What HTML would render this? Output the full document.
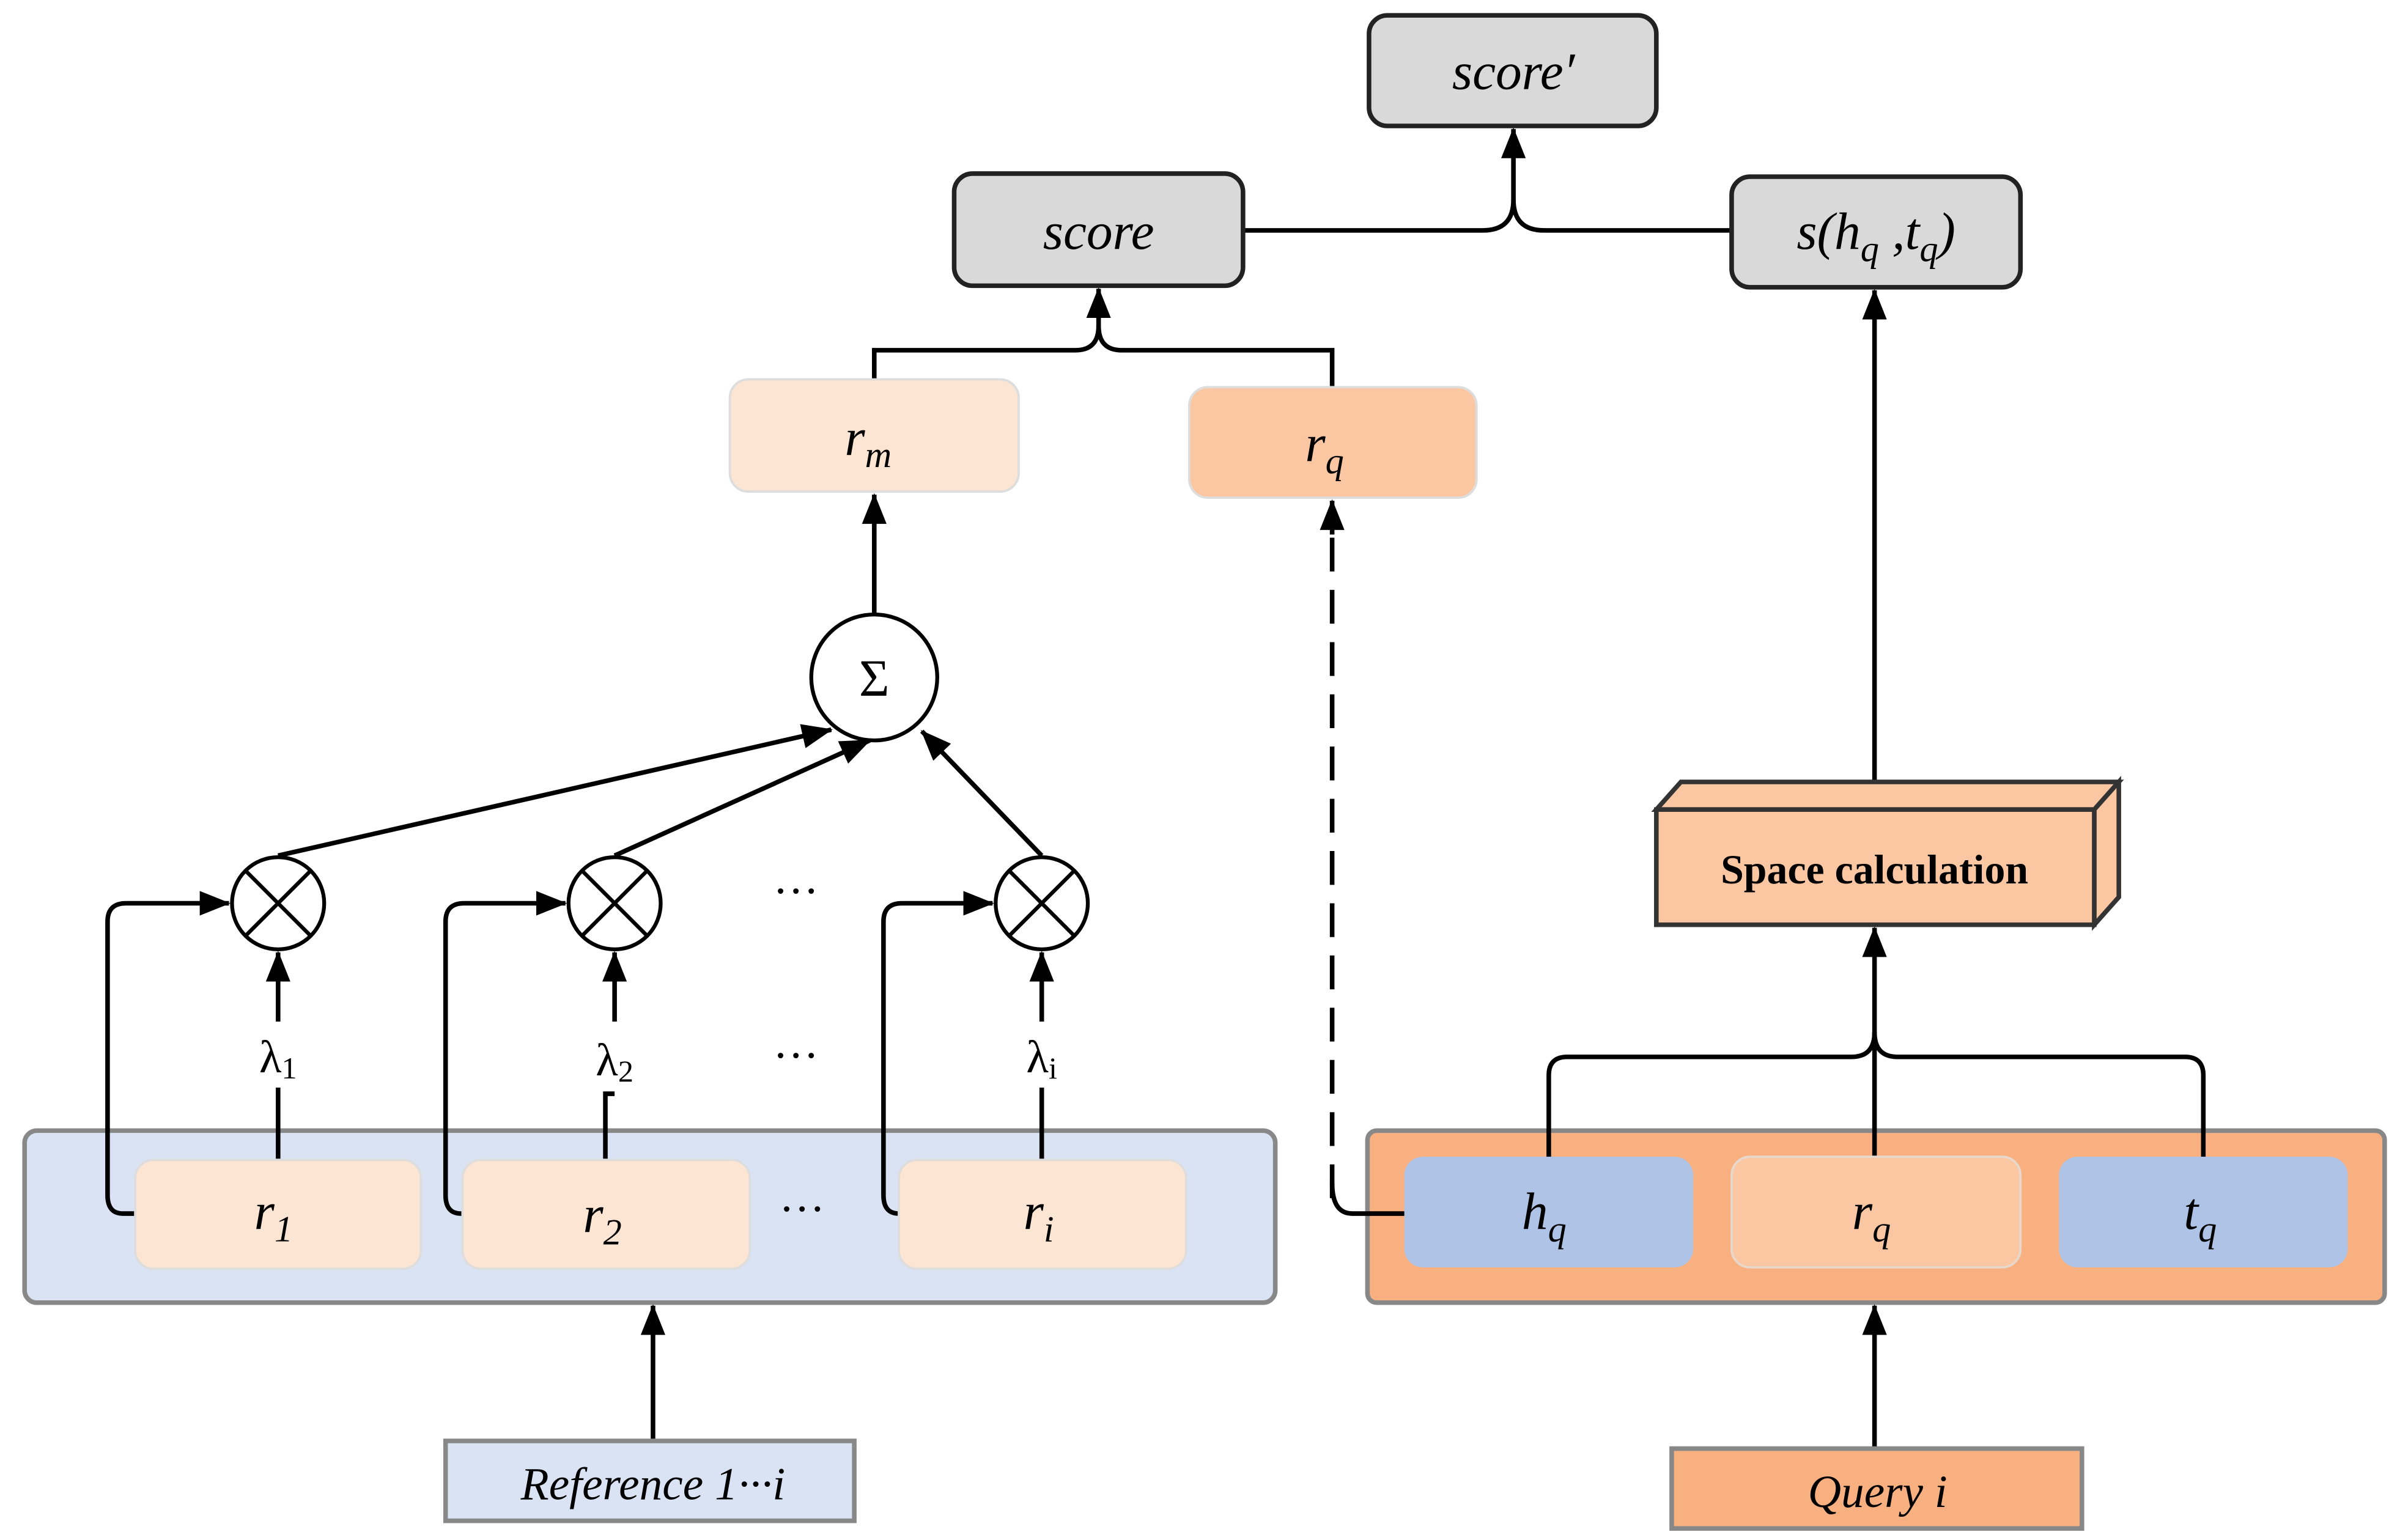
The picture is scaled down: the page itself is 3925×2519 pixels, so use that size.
<!DOCTYPE html>
<html><head><meta charset="utf-8"><style>html,body{margin:0;padding:0;background:#fff}svg{display:block}text{font-family:"Liberation Serif","Times New Roman","DejaVu Serif",serif}</style></head>
<body>
<svg width="3925" height="2519" viewBox="0 0 1562 1002.5" preserveAspectRatio="none" xmlns="http://www.w3.org/2000/svg">
<defs>
<marker id="b" viewBox="0 0 20 16" refX="19" refY="8" markerWidth="20" markerHeight="16" orient="auto" markerUnits="userSpaceOnUse"><path d="M0,0 L20,8 L0,16 Z" fill="#000"/></marker>
</defs>
<rect x="16" y="736" width="814" height="112" rx="8" fill="#dae3f3" stroke="#888" stroke-width="3"/>
<rect x="890" y="736" width="662" height="112" rx="6" fill="#f9b081" stroke="#888" stroke-width="3"/>
<g stroke="#000" stroke-width="3" fill="none">
<path d="M809,150 H965 Q985,150 985,130 V84" marker-end="url(#b)"/>
<path d="M1127,150 H1005 Q985,150 985,130"/>
<path d="M569,247 V228 H700 Q715,228 715,212 V188" marker-end="url(#b)"/>
<path d="M867,252 V228 H730 Q715,228 715,212"/>
<path d="M569,400 V322" marker-end="url(#b)"/>
<path d="M867,780 V345" stroke-dasharray="22,12"/>
<path d="M867,348 V326" marker-end="url(#b)"/>
<path d="M867,770 Q867,790 880,790 H914"/>
<path d="M181,557 L541,475" marker-end="url(#b)"/>
<path d="M400,557 L566,482" marker-end="url(#b)"/>
<path d="M678,557 L600,476" marker-end="url(#b)"/>
<path d="M181,665 V620" marker-end="url(#b)"/>
<path d="M400,665 V620" marker-end="url(#b)"/>
<path d="M678,665 V620" marker-end="url(#b)"/>
<path d="M181,755 V708"/><path d="M394,755 V712 H400"/><path d="M678,755 V708"/>
<path d="M88,790 H80 Q70,790 70,778 V600 Q70,588 82,588 H149" marker-end="url(#b)"/>
<path d="M301,790 H300 Q290,790 290,778 V600 Q290,588 302,588 H368" marker-end="url(#b)"/>
<path d="M585,790 H585 Q575,790 575,778 V600 Q575,588 587,588 H646" marker-end="url(#b)"/>
<path d="M425,938 V850" marker-end="url(#b)"/>
<path d="M1220,943 V850" marker-end="url(#b)"/>
<path d="M1008,753 V700 Q1008,688 1020,688 H1205 Q1220,688 1220,672"/>
<path d="M1434,753 V700 Q1434,688 1422,688 H1235 Q1220,688 1220,672"/>
<path d="M1220,753 V604" marker-end="url(#b)"/>
<path d="M1220,527 V189" marker-end="url(#b)"/>
</g>
<g stroke="#222" stroke-width="3" fill="#d9d9d9">
<rect x="891" y="10" width="187" height="72" rx="12"/>
<rect x="621" y="113" width="188" height="73" rx="12"/>
<rect x="1127" y="115" width="188" height="72" rx="12"/>
</g>
<g font-style="italic" font-size="34" text-anchor="middle" fill="#000">
<text x="985" y="58">score′</text>
<text x="715" y="162">score</text>
<text x="1221" y="162">s(h<tspan font-size="24" dy="8">q</tspan><tspan dy="-8"> ,t</tspan><tspan font-size="24" dy="8">q</tspan><tspan dy="-8">)</tspan></text>
</g>
<rect x="475" y="247" width="188" height="73" rx="12" fill="#fde5d4" stroke="#ddd" stroke-width="1.5"/>
<rect x="774" y="252" width="187" height="72" rx="12" fill="#fbc7a2" stroke="#ddd" stroke-width="1.5"/>
<g font-style="italic" font-size="34" text-anchor="middle">
<text x="565" y="296">r<tspan font-size="24" dy="8">m</tspan></text>
<text x="862" y="300">r<tspan font-size="24" dy="8">q</tspan></text>
</g>
<circle cx="569" cy="441" r="41" fill="#fff" stroke="#000" stroke-width="2.5"/>
<text x="569" y="453" font-size="34" text-anchor="middle">Σ</text>
<g stroke="#000" stroke-width="2.5" fill="#fff">
<circle cx="181" cy="588" r="30"/><circle cx="400" cy="588" r="30"/><circle cx="678" cy="588" r="30"/>
<path d="M160,567 L202,609 M202,567 L160,609 M379,567 L421,609 M421,567 L379,609 M657,567 L699,609 M699,567 L657,609"/>
</g>
<g font-size="30" text-anchor="middle">
<text x="518" y="590">···</text><text x="518" y="697">···</text><text x="522" y="797">···</text>
<text x="181" y="698">λ<tspan font-size="20" dy="4">1</tspan></text>
<text x="400" y="700">λ<tspan font-size="20" dy="4">2</tspan></text>
<text x="678" y="698">λ<tspan font-size="20" dy="4">i</tspan></text>
</g>
<g fill="#fde5d4" stroke="#ddd" stroke-width="1.5">
<rect x="88" y="755" width="186" height="71" rx="12"/>
<rect x="301" y="755" width="187" height="71" rx="12"/>
<rect x="585" y="755" width="187" height="71" rx="12"/>
</g>
<g font-style="italic" font-size="34" text-anchor="middle">
<text x="178" y="800">r<tspan font-size="24" dy="8">1</tspan></text>
<text x="392" y="802">r<tspan font-size="24" dy="8">2</tspan></text>
<text x="676" y="800">r<tspan font-size="24" dy="8">i</tspan></text>
</g>
<rect x="290" y="938" width="266" height="52" fill="#dae3f3" stroke="#888" stroke-width="3"/>
<text x="425" y="976" font-size="30" font-style="italic" text-anchor="middle">Reference 1···i</text>
<rect x="914" y="753" width="188" height="72" rx="12" fill="#aec3e6"/>
<rect x="1127" y="753" width="188" height="72" rx="12" fill="#fbc7a2" stroke="#e8d8cc" stroke-width="1.5"/>
<rect x="1340" y="753" width="188" height="72" rx="12" fill="#aec3e6"/>
<g font-style="italic" font-size="34" text-anchor="middle">
<text x="1005" y="800">h<tspan font-size="24" dy="8">q</tspan></text>
<text x="1218" y="800">r<tspan font-size="24" dy="8">q</tspan></text>
<text x="1432" y="800">t<tspan font-size="24" dy="8">q</tspan></text>
</g>
<rect x="1088" y="943" width="267" height="52" fill="#f9b081" stroke="#888" stroke-width="3"/>
<text x="1222" y="981" font-size="30" font-style="italic" text-anchor="middle">Query i</text>
<g stroke="#333" stroke-width="3" fill="#fbc7a2">
<path d="M1078,527 L1094,509 H1379 L1363,527 Z"/>
<path d="M1363,527 L1379,509 V584 L1363,602 Z"/>
<rect x="1078" y="527" width="285" height="75"/>
</g>
<text x="1220" y="575" font-size="27" font-weight="bold" text-anchor="middle">Space calculation</text>
</svg>
</body></html>
